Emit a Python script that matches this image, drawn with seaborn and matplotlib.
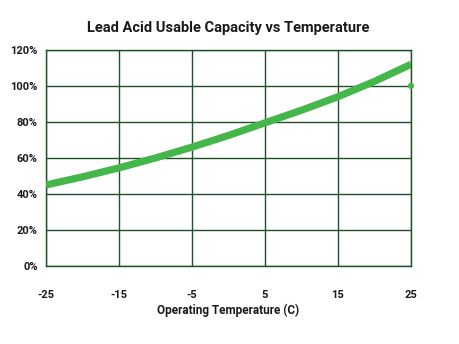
import matplotlib
matplotlib.use("Agg")
import matplotlib.pyplot as plt
import seaborn as sns
import pandas as pd
from matplotlib.ticker import FuncFormatter

temps = [-25, -20, -15, -10, -5, 0, 5, 10, 15, 20, 25]
capacity = [45, 49.5, 54.5, 60, 66, 72.5, 79.5, 86.5, 94, 102.5, 112]
ref_temp = [25]
ref_cap = [100]
x_ticks = [-25, -15, -5, 5, 15, 25]
y_ticks = [0, 20, 40, 60, 80, 100, 120]

sns.set_theme(style="white")
plt.rcParams['font.family'] = ['Roboto', 'DejaVu Sans']
plt.rcParams['axes.unicode_minus'] = False

grid_c = "#1e5128"
line_c = "#45b649"
text_c = "#1a1a1a"

fig = plt.figure(figsize=(4.59, 3.44), dpi=100)
ax = fig.add_axes([0.1002, 0.2267, 0.7952, 0.6283])

df = pd.DataFrame({"t": temps, "c": capacity})
sns.lineplot(data=df, x="t", y="c", ax=ax, color=line_c, linewidth=5.2,
             solid_capstyle="butt", solid_joinstyle="round", zorder=3)
sns.scatterplot(x=ref_temp, y=ref_cap, ax=ax, color=line_c, s=20,
                edgecolor="none", zorder=4, clip_on=False)

ax.set_xlim(-25, 25)
ax.set_ylim(0, 120)
ax.set_xticks(x_ticks)
ax.set_yticks(y_ticks)
ax.yaxis.set_major_formatter(FuncFormatter(lambda v, p: f"{int(v)}%"))
ax.grid(True, color=grid_c, linewidth=1.0)
ax.set_axisbelow(True)
for s in ax.spines.values():
    s.set_color(grid_c)
    s.set_linewidth(1.0)
ax.tick_params(axis="both", length=0, labelsize=8, colors=text_c)
ax.tick_params(axis="x", pad=17)
ax.tick_params(axis="y", pad=6)
for lab in ax.get_xticklabels() + ax.get_yticklabels():
    lab.set_fontweight("bold")

ax.set_xlabel("Operating Temperature (C)", fontsize=8.5, fontweight="bold",
              color=text_c, labelpad=3)
ax.set_ylabel("")
ax.set_title("Lead Acid Usable Capacity vs Temperature", fontsize=10.5,
             fontweight="bold", color=text_c, pad=13)

fig.savefig("out.png", dpi=100, facecolor="white")
